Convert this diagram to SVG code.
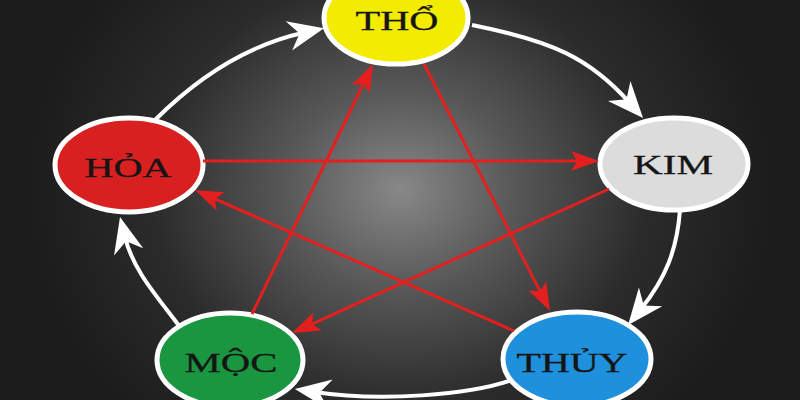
<svg xmlns="http://www.w3.org/2000/svg" width="800" height="400" viewBox="0 0 800 400">
  <defs>
    <radialGradient id="bg" gradientUnits="userSpaceOnUse" cx="400" cy="190" r="330" gradientTransform="translate(400 190) scale(1.15 1) translate(-400 -190)">
      <stop offset="0" stop-color="#888888"/>
      <stop offset="0.3" stop-color="#585858"/>
      <stop offset="0.65" stop-color="#2b2b2b"/>
      <stop offset="1" stop-color="#1b1b1b"/>
    </radialGradient>
    <marker id="wh" markerUnits="userSpaceOnUse" viewBox="-40 -18 44 36" markerWidth="44" markerHeight="36" refX="-20" refY="0" orient="auto">
      <path d="M0,0 L-36,-15 L-25,0 L-36,15 Z" fill="#ffffff"/>
    </marker>
    <marker id="rd" markerUnits="userSpaceOnUse" viewBox="-30 -12 32 24" markerWidth="32" markerHeight="24" refX="-15" refY="0" orient="auto">
      <path d="M0,0 L-28,-10 L-22,0 L-28,10 Z" fill="#e3201f"/>
    </marker>
    <style>
      .node ellipse { stroke: #ffffff; stroke-width: 5; }
      .node text { font-family: "Liberation Serif", "DejaVu Serif", serif; font-size: 27px; fill: #151515; stroke: #151515; stroke-width: 0.3; text-anchor: middle; }
      .cycle { fill: none; stroke: #ffffff; stroke-width: 4; marker-end: url(#wh); }
      .star { fill: none; stroke: #e3201f; stroke-width: 3; marker-end: url(#rd); }
    </style>
  </defs>
  <rect x="0" y="0" width="800" height="400" fill="url(#bg)"/>

  <g id="nodes">
    <g id="node-tho" class="node">
      <ellipse cx="396" cy="18" rx="72" ry="46" fill="#f4ec00"/>
      <text x="397" y="30" textLength="83" lengthAdjust="spacingAndGlyphs">THỔ</text>
    </g>
    <g id="node-kim" class="node">
      <ellipse cx="674" cy="164" rx="74" ry="46" fill="#dcdcdc"/>
      <text x="673" y="174" textLength="80" lengthAdjust="spacingAndGlyphs">KIM</text>
    </g>
    <g id="node-thuy" class="node">
      <ellipse cx="577" cy="359" rx="74" ry="47" fill="#1e90dc"/>
      <text x="572" y="372" textLength="111" lengthAdjust="spacingAndGlyphs">THỦY</text>
    </g>
    <g id="node-moc" class="node">
      <ellipse cx="230" cy="360" rx="73" ry="47" fill="#1a9640"/>
      <text x="231" y="372" textLength="93" lengthAdjust="spacingAndGlyphs">MỘC</text>
    </g>
    <g id="node-hoa" class="node">
      <ellipse cx="129" cy="165" rx="74" ry="47" fill="#d92020"/>
      <text x="128" y="177" textLength="87" lengthAdjust="spacingAndGlyphs">HỎA</text>
    </g>
  </g>

  <g id="connectors">
    <path class="cycle" d="M155,120 Q225,50 304.5,32.5"/>
    <path class="cycle" d="M472,25 C552,41 590,58 629.8,103"/>
    <path class="cycle" d="M680,210 C677,250 665.8,278 640.6,309.4"/>
    <path class="cycle" d="M512,380 C470,395 380,402 314.6,392"/>
    <path class="cycle" d="M180,327 C156,295 133.2,270.4 124.8,236.4"/>

    <path class="star" d="M424,64 L543.2,297.6"/>
    <path class="star" d="M252,314 L366.5,77.5"/>
    <path class="star" d="M203,161 L584,161"/>
    <path class="star" d="M609,189 L305.7,326.8"/>
    <path class="star" d="M514,331 L208.7,196.1"/>
  </g>
</svg>
